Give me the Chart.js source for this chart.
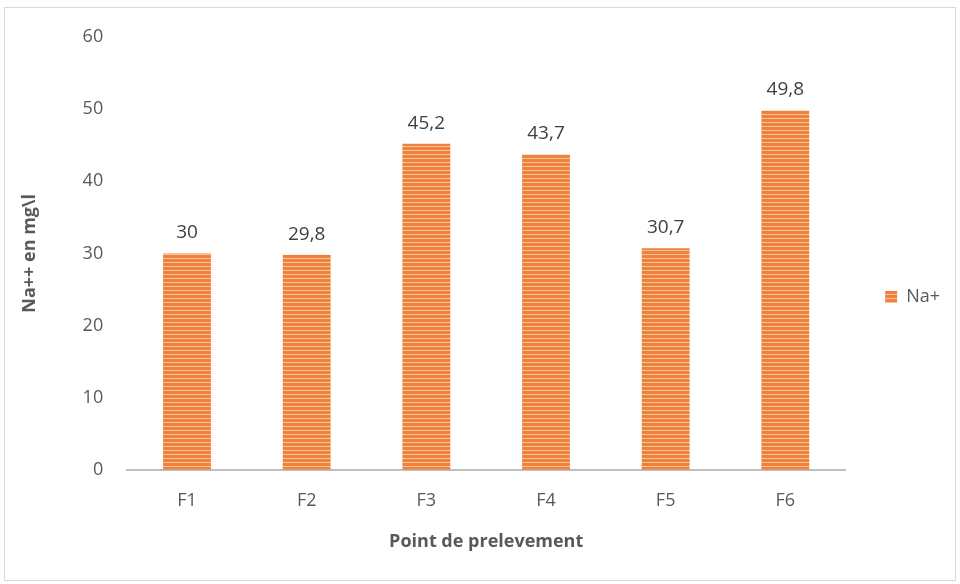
<!DOCTYPE html>
<html>
<head>
<meta charset="utf-8">
<script src="https://cdn.jsdelivr.net/npm/chart.js@4"></script>
<style>
  html, body { margin: 0; padding: 0; background: #fff; }
  #frame {
    position: absolute; left: 4px; top: 7px;
    width: 950px; height: 572px;
    border: 1px solid #d9d9d9;
  }
  #c { position: absolute; left: 0; top: 0; }
</style>
</head>
<body>
<div id="frame"></div>
<canvas id="c" width="960" height="584"></canvas>
<script>
const categories = ["F1", "F2", "F3", "F4", "F5", "F6"];
const naValues = [30, 29.8, 45.2, 43.7, 30.7, 49.8];
const yTicks = [0, 10, 20, 30, 40, 50, 60];

function stripes() {
  const p = document.createElement("canvas");
  p.width = 4;
  p.height = 4;
  const g = p.getContext("2d");
  g.fillStyle = "#ee823d";
  g.fillRect(0, 0, 4, 4);
  g.fillStyle = "#f9c29a";
  g.fillRect(0, 2, 4, 1);
  return g.createPattern(p, "repeat");
}

const valueLabels = {
  id: "valueLabels",
  afterDatasetsDraw(chart) {
    const ctx = chart.ctx;
    const meta = chart.getDatasetMeta(0);
    ctx.save();
    ctx.font = "19px 'Open Sans', sans-serif";
    ctx.fillStyle = "#404040";
    ctx.textAlign = "center";
    ctx.textBaseline = "bottom";
    meta.data.forEach((bar, i) => {
      const txt = String(naValues[i]).replace(".", ",");
      ctx.fillText(txt, bar.x, bar.y - 11);
    });
    ctx.restore();
  },
};

const tickFont = { family: "'Open Sans', sans-serif", size: 18 };
const titleFont = { family: "'Open Sans', sans-serif", size: 18, weight: "bold" };

new Chart(document.getElementById("c"), {
  type: "bar",
  data: {
    labels: categories,
    datasets: [
      {
        label: "Na+",
        data: naValues,
        backgroundColor: stripes(),
        categoryPercentage: 1,
        barPercentage: 0.4,
      },
    ],
  },
  options: {
    responsive: false,
    animation: false,
    layout: { padding: { top: 37, right: 10, bottom: 27, left: 15 } },
    plugins: {
      tooltip: { enabled: false },
      legend: {
        position: "right",
        labels: {
          boxWidth: 12,
          boxHeight: 12,
          color: "#595959",
          font: tickFont,
          padding: 40,
        },
      },
    },
    scales: {
      x: {
        grid: { display: false, drawTicks: false },
        border: { color: "#bfbfbf", width: 2 },
        ticks: { color: "#595959", font: tickFont, padding: 20 },
        title: {
          display: true,
          text: "Point de prelevement",
          color: "#595959",
          font: titleFont,
          padding: { top: 0 },
        },
      },
      y: {
        min: 0,
        max: 60,
        afterBuildTicks: (axis) => {
          axis.ticks = yTicks.map((v) => ({ value: v }));
        },
        grid: { display: false, drawTicks: false },
        border: { display: false },
        ticks: { color: "#595959", font: tickFont, padding: 24 },
        title: {
          display: true,
          text: "Na++ en mg\\l",
          color: "#595959",
          font: titleFont,
          padding: { bottom: 18 },
        },
      },
    },
  },
  plugins: [valueLabels],
});
</script>
</body>
</html>
